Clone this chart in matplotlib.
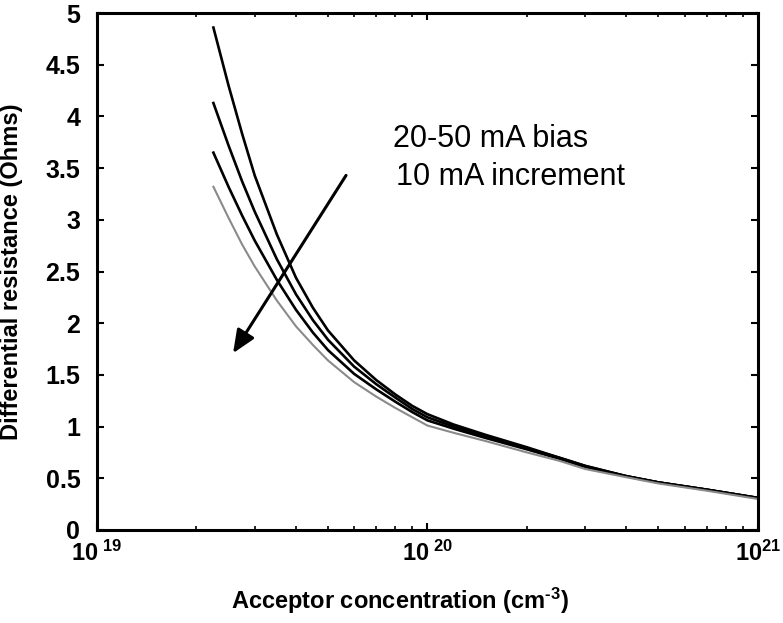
import numpy as np
import matplotlib
matplotlib.use('Agg')
import matplotlib.pyplot as plt
from matplotlib.ticker import LogLocator, NullFormatter, FixedLocator

plt.rcParams['font.family'] = ['Liberation Sans', 'DejaVu Sans']
plt.rcParams['mathtext.fontset'] = 'custom'
plt.rcParams['mathtext.rm'] = 'Liberation Sans:bold'
plt.rcParams['mathtext.it'] = 'Liberation Sans:bold'
plt.rcParams['mathtext.bf'] = 'Liberation Sans:bold'

# acceptor concentration (cm^-3) and differential resistance (Ohms) for 20..50 mA bias
conc = [2.25e19, 2.5e19, 2.75e19, 3e19, 3.5e19, 4e19, 4.5e19, 5e19, 6e19, 7e19, 8e19, 9e19,
        1e20, 1.2e20, 1.5e20, 2e20, 2.5e20, 3e20, 4e20, 5e20, 7e20, 1e21]
r_20mA = [4.86, 4.30, 3.83, 3.43, 2.86, 2.44, 2.15, 1.93, 1.64, 1.45, 1.31, 1.20,
          1.12, 1.02, 0.92, 0.80, 0.70, 0.62, 0.52, 0.46, 0.39, 0.31]
r_30mA = [4.13, 3.72, 3.37, 3.08, 2.62, 2.28, 2.03, 1.84, 1.58, 1.41, 1.28, 1.17,
          1.09, 1.00, 0.90, 0.79, 0.70, 0.62, 0.52, 0.46, 0.39, 0.31]
r_40mA = [3.65, 3.32, 3.04, 2.80, 2.42, 2.13, 1.91, 1.74, 1.51, 1.36, 1.24, 1.14,
          1.06, 0.98, 0.89, 0.78, 0.69, 0.61, 0.52, 0.46, 0.39, 0.31]
r_50mA = [3.32, 3.02, 2.76, 2.55, 2.22, 1.97, 1.79, 1.64, 1.43, 1.29, 1.18, 1.09,
          1.01, 0.94, 0.86, 0.75, 0.67, 0.59, 0.51, 0.45, 0.38, 0.30]

yticks = [0, 0.5, 1, 1.5, 2, 2.5, 3, 3.5, 4, 4.5, 5]
ytick_labels = ['0', '0.5', '1', '1.5', '2', '2.5', '3', '3.5', '4', '4.5', '5']
xticks = [1e19, 1e20, 1e21]
xtick_labels = [r'$10^{\ 19}$', r'$10^{\ 20}$', r'$10^{21}$']

fig = plt.figure(figsize=(7.83, 6.23), dpi=100)
ax = fig.add_axes([0.1239, 0.1493, 0.968 - 0.1239, 0.979 - 0.1493])

for r in (r_20mA, r_30mA, r_40mA):
    ax.plot(conc, r, color='black', lw=1.9, solid_joinstyle='round')
ax.plot(conc, r_50mA, color='#8a8a8a', lw=1.5, solid_joinstyle='round')

ax.set_xscale('log')
ax.set_xlim(1e19, 1e21)
ax.set_ylim(0, 5)

ax.set_yticks(yticks)
ax.set_yticklabels(ytick_labels, fontsize=18, fontweight='bold')
ax.xaxis.set_major_locator(FixedLocator(xticks))
ax.set_xticklabels(xtick_labels, fontsize=17)
ax.xaxis.set_minor_locator(LogLocator(base=10, subs=np.arange(2, 10)))
ax.xaxis.set_minor_formatter(NullFormatter())

ax.tick_params(axis='both', which='both', direction='in', top=True, right=True)
ax.tick_params(axis='y', which='major', length=5, width=1.5, pad=12)
ax.tick_params(axis='x', which='major', length=5, width=1.5, pad=8)
ax.tick_params(axis='x', which='minor', length=3, width=1.2)
for s in ax.spines.values():
    s.set_linewidth(2.2)

ax.set_xlabel('Acceptor concentration (cm$^{\u2010 3}$)', fontsize=17, fontweight='bold')
ax.xaxis.set_label_coords(0.458, -0.108)
ax.set_ylabel('Differential resistance (Ohms)', fontsize=17, fontweight='bold')
ax.yaxis.set_label_coords(-0.112, 0.5)

ax.annotate('', xy=(2.58e19, 1.71), xytext=(5.67e19, 3.43),
            arrowprops=dict(arrowstyle='-|>,head_length=1.4,head_width=0.6',
                            color='black', lw=2.2, shrinkA=0, shrinkB=0))
ax.text(7.86e19, 3.70, '20-50 mA bias', fontsize=22, va='baseline', ha='left')
ax.text(8.03e19, 3.34, '10 mA increment', fontsize=22, va='baseline', ha='left')

fig.savefig('out.png', dpi=100)
